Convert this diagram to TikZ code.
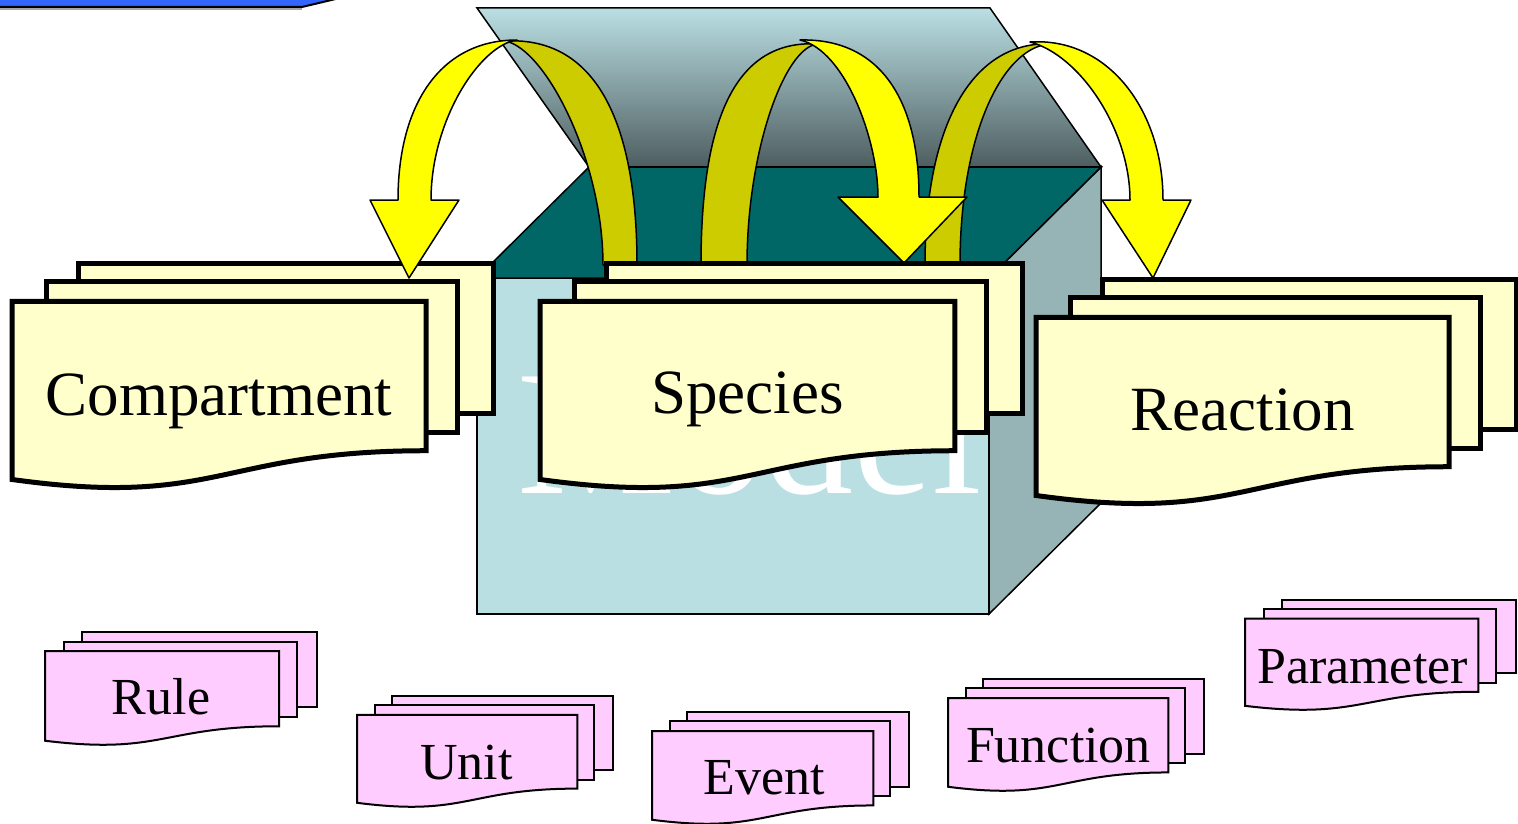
\documentclass[tikz,border=0pt]{standalone}
\usepackage{fontspec}
\setmainfont{Liberation Serif}
\definecolor{barblue}{RGB}{51,102,255}
\definecolor{boxfront}{RGB}{185,223,227}
\definecolor{boxside}{RGB}{150,180,182}
\definecolor{boxtop}{RGB}{0,102,102}
\definecolor{lidtop}{RGB}{186,223,227}
\definecolor{lidmid}{RGB}{140,170,173}
\definecolor{lidbot}{RGB}{78,94,96}
\definecolor{docyellow}{RGB}{255,255,204}
\definecolor{docpink}{RGB}{255,204,255}
\definecolor{ybright}{RGB}{255,255,0}
\definecolor{ydark}{RGB}{204,204,0}
\tikzset{
  boxline/.style={draw=black,line width=1.5pt},
  ydoc/.style={draw=black,line width=5pt,fill=docyellow},
  pdoc/.style={draw=black,line width=2pt,fill=docpink},
  arrowline/.style={draw=black,line width=1.5pt,line join=round},
  ylabel/.style={inner sep=0pt,anchor=base,font=\fontsize{63}{70}\selectfont},
  plabel/.style={inner sep=0pt,anchor=base,font=\fontsize{52}{58}\selectfont},
}
% stacked documents: x0, y0 (top-left of frame), width, height, style
\newcommand\mdoc[5]{%
  \pgfmathsetmacro\mdx{#3/216}\pgfmathsetmacro\mdy{-#4/216}%
  \begin{scope}[shift={(#1,#2)},x=\mdx pt,y=\mdy pt]
    \path[#5] (29.72,0) rectangle (216,144.3);
    \path[#5] (15.32,18.15) rectangle (200,162.9);
    \path[#5] (0,207.82) .. controls (92.98,235.42) and (92.98,180.22) .. (185.95,180.22)
      -- (185.95,36.75) -- (0,36.75) -- cycle;
  \end{scope}}
\begin{document}
\begin{tikzpicture}[x=1pt,y=-1pt,line join=miter]
\useasboundingbox (0,0) rectangle (1518,824);
% title bar remnant
\fill[barblue] (0,-3) -- (346,-3) -- (302,7) -- (0,7) -- cycle;
\draw[black!35,line width=1.5pt] (0,9) -- (302,9);
\draw[black,line width=2pt] (0,7) -- (302,7) -- (344,-3);
% box
\path[boxline,fill=boxfront] (477,278) rectangle (989,614);
\path[boxline,fill=boxside] (989,278) -- (1101,167) -- (1101,503) -- (989,614) -- cycle;
\path[boxline,fill=boxtop] (477,278) -- (589,167) -- (1101,167) -- (989,278) -- cycle;
\path[boxline,top color=lidtop,middle color=lidmid,bottom color=lidbot]
  (589,167) -- (477,8) -- (990,8) -- (1101,167) -- cycle;
\node[inner sep=0pt,anchor=base west,text=white,font=\fontsize{178}{190}\selectfont]
  (model) at (517,493) {Model};
% Compartment stack
\mdoc{12}{263}{481}{225}{ydoc}
% arrow 3
\path[arrowline,fill=ydark] (925,265) .. controls (925,120) and (975,40) .. (1052,44)
  .. controls (1005,44) and (960,130) .. (960,265) -- cycle;
\path[arrowline,fill=ybright] (1030,42) .. controls (1108,37) and (1163,110) .. (1163,200)
  -- (1191,200) -- (1153,278) -- (1102,200) -- (1130,200)
  .. controls (1130,130) and (1080,55) .. (1030,42) -- cycle;
% arrow 2
\path[arrowline,fill=ydark] (701,265) .. controls (701,120) and (735,39) .. (818,44)
  .. controls (785,46) and (747,150) .. (747,265) -- cycle;
\path[arrowline,fill=ybright] (800,40) .. controls (880,38) and (919,100) .. (919,197)
  -- (967,197) -- (904,263) -- (838,197) -- (878,197)
  .. controls (878,140) and (845,50) .. (800,40) -- cycle;
% arrow 1
\path[arrowline,fill=ydark] (637,265) .. controls (637,130) and (600,36) .. (505,41)
  .. controls (545,48) and (603,160) .. (603,265) -- cycle;
\path[arrowline,fill=ybright] (398,200) .. controls (398,105) and (440,40) .. (517,40)
  .. controls (480,45) and (431,120) .. (431,200) -- (459,200) -- (409,278)
  -- (370,200) -- cycle;
% Species and Reaction stacks
\mdoc{540}{263}{482}{225}{ydoc}
\mdoc{1036}{279}{480}{225}{ydoc}
% pink stacks
\mdoc{45}{632}{272}{113}{pdoc}
\mdoc{357}{696}{256}{111}{pdoc}
\mdoc{652}{712}{257}{112}{pdoc}
\mdoc{948}{679}{256}{112}{pdoc}
\mdoc{1245}{600}{271}{110}{pdoc}
% labels
\node[ylabel] (compartment) at (219,415) {Compartment};
\node[ylabel] (species) at (747.5,413) {Species};
\node[ylabel] (reaction) at (1242.5,430) {Reaction};
\node[plabel] (rule) at (161,714) {Rule};
\node[plabel] (unit) at (466.5,779) {Unit};
\node[plabel] (event) at (764,794) {Event};
\node[plabel] (function) at (1058.5,762) {Function};
\node[plabel] (parameter) at (1362.5,683) {Parameter};
\end{tikzpicture}
\end{document}
